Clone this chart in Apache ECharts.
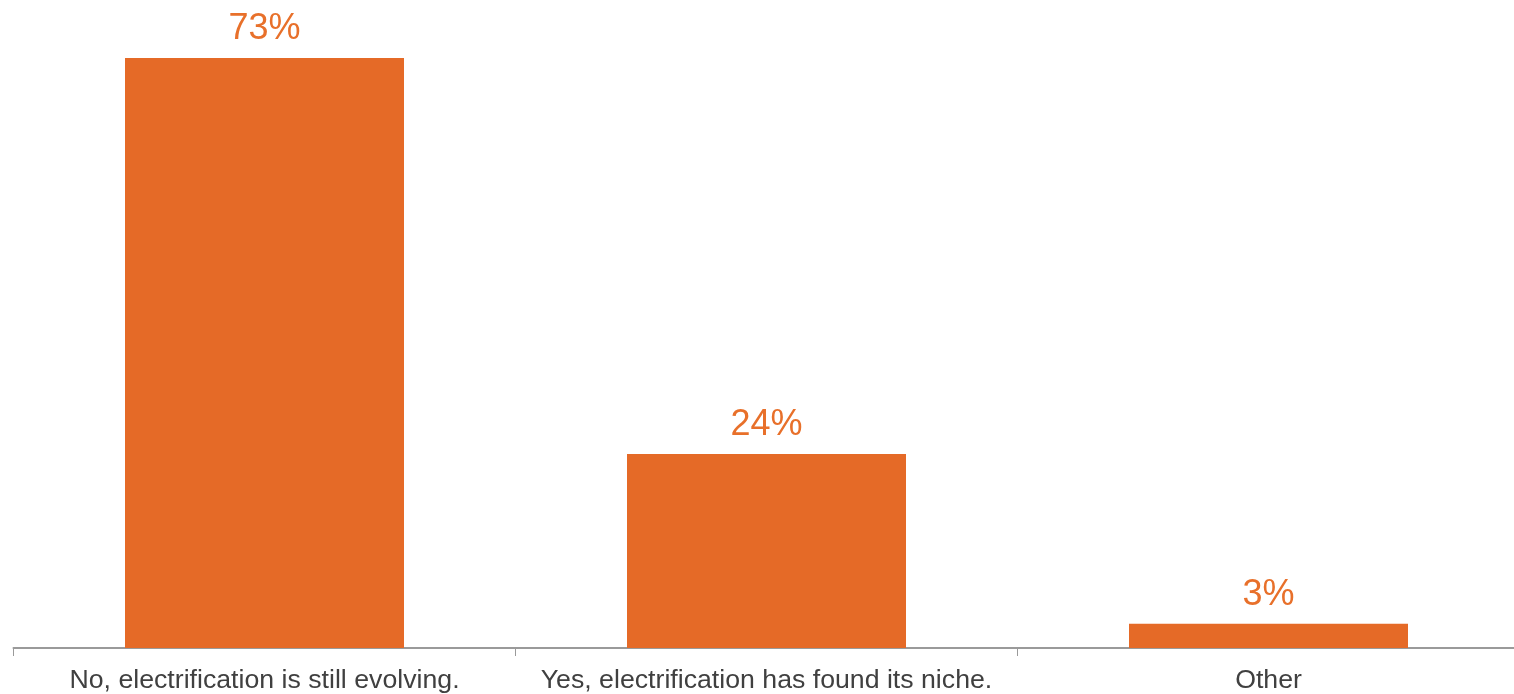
<!DOCTYPE html>
<html>
<head>
<meta charset="utf-8">
<script src="https://cdn.jsdelivr.net/npm/echarts@6/dist/echarts.min.js"></script>
<style>
  html, body { margin: 0; padding: 0; background: #ffffff; overflow: hidden; }
  #chart { width: 1520px; height: 694px; }
</style>
</head>
<body>
<div id="chart"></div>
<script>
// Survey answers and their shares (percent)
const categories = [
  'No, electrification is still evolving.',
  'Yes, electrification has found its niche.',
  'Other'
];
const shares = [73, 24, 3];

const chart = echarts.init(document.getElementById('chart'), null, { renderer: 'canvas' });

chart.setOption({
  animation: false,
  backgroundColor: '#ffffff',
  grid: { left: 13.5, right: 0.5, top: 1.5, bottom: 45.5, containLabel: false },
  xAxis: {
    type: 'category',
    data: categories,
    axisLine: { lineStyle: { color: '#9a9a9a', width: 2 } },
    axisTick: { show: true, length: 8, lineStyle: { color: '#9a9a9a', width: 1 } },
    axisLabel: {
      color: '#404040',
      fontFamily: 'Liberation Sans, Arial, sans-serif',
      fontSize: 26.7,
      margin: 19,
      interval: 0
    }
  },
  yAxis: {
    type: 'value',
    min: 0,
    max: 80,
    show: false,
    splitLine: { show: false }
  },
  series: [{
    type: 'bar',
    data: shares,
    barWidth: 279,
    itemStyle: { color: '#E56A27' },
    label: {
      show: true,
      position: 'top',
      distance: 11,
      color: '#E8702A',
      fontFamily: 'Liberation Sans, Arial, sans-serif',
      fontSize: 36,
      formatter: p => p.value + '%'
    }
  }]
});
</script>
</body>
</html>
